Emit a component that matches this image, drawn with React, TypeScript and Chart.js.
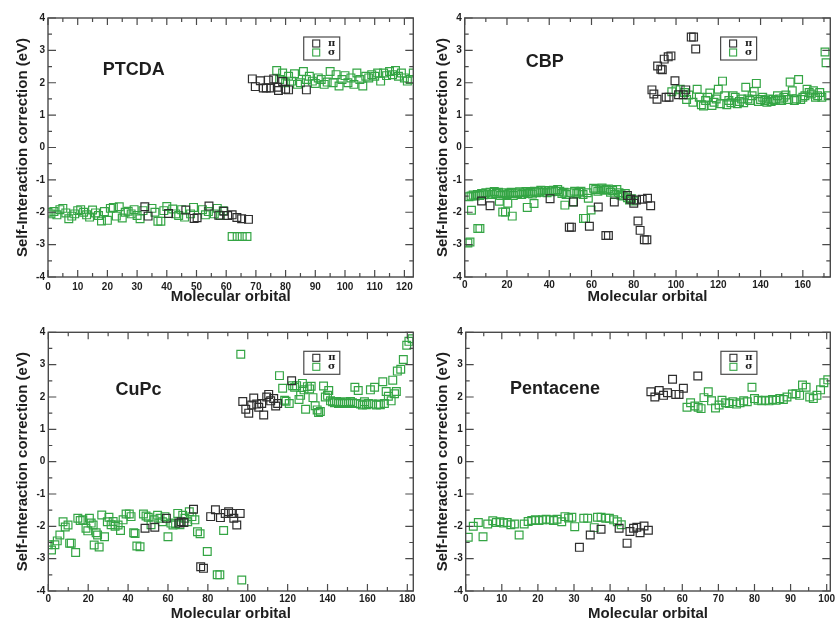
import React, { useEffect, useRef } from 'react';
import { Chart, registerables } from 'chart.js';

Chart.register(...registerables);

type Pt = [number, number];

// ---------- DATA ----------
const ptcdaPi: Pt[] = [
  [32.6, -1.83], [33.7, -2.12], [40.6, -2.04], [46.4, -1.93], [49.2, -2.19], [50.2, -2.17], [54.2, -1.81],
  [57.5, -2.09], [59.2, -1.97], [60.5, -2.1], [62, -2.08], [63.6, -2.16], [65.2, -2.2], [67.5, -2.22],
  [68.8, 2.12], [69.8, 1.88], [71.5, 2.06], [72.5, 1.84], [73.5, 1.84], [74.2, 2.08], [75, 1.84], [76, 2.12],
  [77.2, 1.86], [77.6, 1.76], [79, 2.04], [80, 1.8], [81, 1.78], [87, 1.78],
];
const ptcdaSigma: Pt[] = [
  [0, -2.0], [1, -2.05], [2, -1.98], [3, -2.08], [4, -1.92], [5, -1.88], [6, -2.02], [7, -2.2], [8, -2.12], [9, -2.05],
  [10, -1.95], [11, -1.92], [12, -2.0], [13, -2.08], [14, -2.15], [15, -1.93], [16, -2.02], [17, -2.1], [18, -2.27],
  [19, -1.98], [20, -2.25], [21, -1.88], [22, -1.85], [23, -2.12], [24, -1.83], [25, -2.18], [26, -2.0], [27, -1.97],
  [28, -2.05], [29, -1.92], [30, -2.1], [31, -2.2], [32, -1.95], [35, -1.88], [36, -2.0], [37, -2.28], [38, -2.28],
  [39, -1.95], [40, -1.82], [42, -1.9], [43, -2.05], [44, -2.1], [45, -1.92], [46, -2.15], [48, -2.05], [49, -1.85],
  [52, -1.92], [53, -2.08], [54, -1.98], [56, -2.05], [57, -1.88], [58, -2.1], [59, -1.95],
  [62, -2.75], [63.7, -2.75], [65.4, -2.75], [67, -2.75],
  [77, 2.38], [78, 2.1], [79, 2.3], [80, 2.0], [81, 2.2], [82, 2.05], [83, 2.28], [84, 1.95], [85, 2.0], [86, 2.35],
  [87, 2.1], [88, 2.2], [89, 2.05], [90, 1.98], [91, 2.15], [92, 2.1], [93, 1.95], [94, 2.02], [95, 2.35], [96, 2.0],
  [97, 2.25], [98, 1.9], [99, 2.1], [100, 2.22], [101, 2.0], [102, 2.15], [103, 1.95], [104, 2.3], [105, 2.1],
  [106, 1.9], [107, 2.2], [108, 2.15], [109, 2.25], [110, 2.2], [111, 2.3], [112, 2.05], [113, 2.3], [114, 2.22],
  [115, 2.35], [116, 2.25], [117, 2.38], [118, 2.2], [119, 2.3], [120, 2.15], [121, 2.05], [122, 2.1], [123, 2.3],
];

const cbpPi: Pt[] = [
  [8, -1.65], [12, -1.8], [40.4, -1.58], [49.5, -2.46], [50.5, -2.46], [51.5, -1.68], [59, -2.43], [63.2, -1.84],
  [66.8, -2.72], [68, -2.72], [70.8, -1.68], [77, -1.48], [78.5, -1.6], [80, -1.72], [81.3, -1.62], [82, -2.27],
  [83, -2.56], [84, -1.6], [85, -2.85], [86.2, -2.85], [86.5, -1.57], [88, -1.8],
  [88.6, 1.78], [89.5, 1.65], [91, 1.49], [91.3, 2.52], [92.8, 2.42], [93.5, 2.4], [94.4, 2.73], [96.3, 2.8],
  [97.6, 2.83], [95.3, 1.55], [96.7, 1.55], [99.5, 2.06], [101.2, 1.63], [103.4, 1.63], [104.6, 1.78],
  [107.2, 3.41], [108.3, 3.41], [109.3, 3.04],
];
const cbpSigma: Pt[] = [
  [1.5, -2.95], [2.5, -2.92], [3.2, -1.94], [6.2, -2.5], [7.2, -2.5], [16.4, -1.66], [18, -1.99], [19.3, -1.99],
  [20.4, -1.72], [22.5, -2.12], [29.6, -1.85], [32.8, -1.73], [47.4, -1.78], [51.3, -1.68], [56.2, -2.19],
  [57.2, -2.19], [59.8, -1.93], [58.5, -1.57], [73.9, -1.47],
  [2, -1.52], [3, -1.5], [4, -1.47], [5, -1.5], [6, -1.45], [7, -1.48], [8, -1.42], [9, -1.46], [10, -1.4],
  [11, -1.44], [12, -1.38], [13, -1.45], [14, -1.36], [15, -1.42], [16, -1.38], [17, -1.48], [18, -1.44], [19, -1.4],
  [20, -1.46], [21, -1.42], [22, -1.38], [23, -1.48], [24, -1.4], [25, -1.43], [26, -1.37], [27, -1.45], [28, -1.4],
  [29, -1.36], [30, -1.42], [31, -1.38], [32, -1.44], [33, -1.35], [34, -1.4], [35, -1.37], [36, -1.32], [37, -1.38],
  [38, -1.34], [39, -1.4], [40, -1.33], [41, -1.37], [42, -1.32], [43, -1.36], [44, -1.3], [45, -1.35], [46, -1.42],
  [47, -1.38], [48, -1.45], [50, -1.4], [52, -1.35], [53, -1.42], [54, -1.38], [55, -1.35], [56, -1.45], [58, -1.4],
  [61, -1.26], [62, -1.3], [63, -1.35], [64, -1.28], [65, -1.25], [66, -1.32], [67, -1.3], [68, -1.28], [69, -1.38],
  [70, -1.33], [71, -1.45], [72, -1.3], [73, -1.4], [74, -1.47], [75, -1.5], [76, -1.42], [77, -1.55], [78, -1.62],
  [79, -1.58], [80, -1.65],
  [98, 1.72], [100, 1.78], [102, 1.8], [104, 1.7], [105, 1.48], [106, 1.62], [108, 1.4], [110, 1.8], [111, 1.55],
  [112, 1.32], [113, 1.28], [114, 1.45], [115, 1.55], [116, 1.68], [117, 1.3], [118, 1.4], [119, 1.5], [120, 1.8],
  [121, 1.35], [122, 2.05], [123, 1.6], [124, 1.32], [125, 1.45], [126, 1.38], [127, 1.6], [128, 1.55], [129, 1.35],
  [130, 1.42], [131, 1.5], [132, 1.38], [133, 1.86], [134, 1.5], [135, 1.45], [136, 1.6], [137, 1.73], [138, 1.98],
  [139, 1.42], [140, 1.48], [141, 1.55], [142, 1.45], [143, 1.4], [144, 1.5], [145, 1.42], [146, 1.48], [147, 1.45],
  [148, 1.6], [149, 1.5], [150, 1.45], [151, 1.55], [152, 1.62], [153, 1.48], [154, 2.02], [155, 1.75], [156, 1.45],
  [157, 1.5], [158, 2.1], [159, 1.48], [160, 1.55], [161, 1.6], [162, 1.8], [163, 1.7], [164, 1.65], [165, 1.75],
  [166, 1.55], [167, 1.6], [168, 1.7], [169, 1.55], [170.5, 2.95], [171, 2.62], [172, 1.6],
];

const cupcPi: Pt[] = [
  [48.5, -2.06], [53.4, -2.03], [59.2, -1.75], [65.5, -1.9], [66.6, -1.86], [68, -1.88], [72.8, -1.47],
  [76.4, -3.25], [77.8, -3.3], [81.4, -1.7], [83.8, -1.49], [86.3, -1.73], [88.7, -1.6], [90.4, -1.55],
  [91.8, -1.6], [93, -1.75], [94.5, -1.96], [96.2, -1.6],
  [97.5, 1.86], [99, 1.62], [100.5, 1.5], [102, 1.75], [103, 1.97], [104.5, 1.78], [105.5, 1.68], [107, 1.8],
  [108, 1.44], [109.5, 2.0], [110.5, 2.08], [111.5, 1.88], [113, 1.95], [114, 1.72], [115, 1.8], [122, 2.5],
];
const cupcSigma: Pt[] = [
  [0, -2.57], [1.6, -2.73], [3.3, -2.57], [4.5, -2.45], [5.8, -2.27], [7.4, -1.86], [8.5, -2.02], [9.9, -1.96],
  [10.7, -2.52], [11.5, -2.52], [13.7, -2.81], [14.8, -1.75], [16, -1.82], [17.3, -1.8], [18.9, -2.06], [19.8, -2.14],
  [20.6, -1.75], [21.5, -1.9], [22.5, -1.96], [23, -2.58], [24, -2.2], [24.7, -2.27], [25.5, -2.64], [26.8, -1.65],
  [28.2, -2.32], [29.6, -1.86], [30.4, -1.72], [31.5, -1.95], [32.5, -1.85], [33.5, -2.0], [35, -1.96], [36.2, -2.13],
  [37.5, -1.8], [39, -1.62], [40.6, -1.62], [41.5, -1.7], [42.8, -2.2], [43.5, -2.22], [44.4, -2.61], [46, -2.63],
  [47.7, -1.62], [49, -1.68], [50.1, -1.72], [51.5, -1.95], [53, -1.8], [54.8, -1.66], [56, -1.75], [57.2, -1.86],
  [58.5, -1.7], [60, -2.32], [61.5, -1.9], [62.5, -1.96], [63.8, -1.92], [64.9, -1.6], [66, -1.95], [67.4, -1.66],
  [68.5, -1.75], [69.9, -1.86], [70.7, -1.55], [72, -1.7], [73.5, -1.8], [74.8, -2.17], [76.1, -2.23], [79.7, -2.78],
  [84.7, -3.5], [86, -3.5], [87.9, -2.13], [97, -3.66],
  [96.5, 3.32], [115.9, 2.66], [117.5, 2.27], [118.5, 1.9], [119.2, 1.87], [120.8, 1.8], [122.5, 2.35], [123.5, 2.3],
  [124.5, 2.35], [125.7, 1.92], [126.5, 2.05], [127.4, 2.42], [128.2, 2.22], [129, 1.62], [129.9, 2.32], [131, 2.25],
  [131.8, 2.33], [132.7, 1.98], [133.8, 1.73], [134.8, 1.6], [135.5, 1.52], [136.4, 1.55], [138, 2.34], [138.9, 2.0],
  [140, 2.05], [140.6, 2.2], [141.5, 1.88], [142.5, 1.85], [143.5, 1.82], [144.5, 1.86], [145.5, 1.8], [146.5, 1.83],
  [147.5, 1.8], [148.5, 1.85], [149.5, 1.82], [150.5, 1.8], [151.5, 1.86], [152.5, 1.82], [153.7, 2.3], [154.5, 1.8],
  [155.4, 2.2], [156.5, 1.78], [157.5, 1.75], [158.5, 1.85], [159.5, 1.76], [160.5, 1.8], [161.5, 2.22], [162.5, 1.78],
  [163.6, 2.3], [164.5, 1.75], [165.5, 1.78], [166.5, 1.76], [167.7, 2.47], [168.5, 1.8], [169.4, 2.17], [170.5, 2.02],
  [171.9, 1.88], [172.7, 2.52], [173.6, 2.1], [174.5, 2.17], [175, 2.8], [176.7, 2.86], [178, 3.16], [179.7, 3.6],
  [180.8, 3.72], [182.4, 3.8],
];

const pentacenePi: Pt[] = [
  [31.5, -2.65], [34.5, -2.27], [37.5, -2.09], [42.5, -2.06], [44.7, -2.52], [45.5, -2.16], [46.5, -2.06],
  [47.4, -2.03], [48.3, -2.2], [49.4, -1.99], [50.6, -2.12],
  [51.3, 2.16], [52.4, 2.0], [53.6, 2.2], [54.8, 2.05], [55.9, 2.13], [57.3, 2.55], [58.2, 2.08], [59.1, 2.08],
  [60.3, 2.27], [64.3, 2.65],
];
const pentaceneSigma: Pt[] = [
  [0.7, -2.34], [2.1, -2.0], [3.5, -1.88], [4.8, -2.32], [6.1, -1.93], [7.5, -1.83], [8.5, -1.88], [9.5, -1.86],
  [10.5, -1.9], [11.5, -1.88], [12.5, -1.95], [13.5, -1.93], [14.8, -2.27], [16.2, -1.93], [17.3, -1.85], [18.3, -1.82],
  [19.3, -1.8], [20.3, -1.82], [21.3, -1.8], [22.3, -1.78], [23.3, -1.8], [24.3, -1.82], [25.3, -1.78], [26.6, -1.86],
  [27.5, -1.7], [28.5, -1.74], [29.4, -1.72], [30.2, -2.01], [32.7, -1.75], [33.8, -1.75], [35.6, -2.04], [36.5, -1.72],
  [37.5, -1.72], [38.8, -1.75], [39.8, -1.75], [41, -1.8], [42, -1.86], [43.1, -1.95],
  [61.3, 1.68], [62.3, 1.82], [63.5, 1.72], [64.4, 1.68], [65.2, 1.64], [66, 1.98], [67.2, 2.16], [68.1, 1.88],
  [69.2, 1.66], [70.2, 1.75], [71, 1.9], [72, 1.82], [73, 1.8], [74, 1.85], [75, 1.78], [76, 1.82], [77, 1.88],
  [78, 1.85], [79.3, 2.3], [80, 1.95], [81, 1.9], [82, 1.88], [83, 1.9], [84, 1.88], [85, 1.92], [86, 1.9], [87, 1.95],
  [88, 1.92], [89, 2.0], [90.5, 2.09], [91.5, 2.1], [92.5, 2.05], [93.3, 2.37], [94.3, 2.3], [95.3, 2.0], [96.3, 1.95],
  [97.3, 2.05], [98.3, 2.22], [99.2, 2.44], [100.3, 2.53],
];

const yTicks = [-4, -3, -2, -1, 0, 1, 2, 3, 4];
const ptcdaXTicks = [0, 10, 20, 30, 40, 50, 60, 70, 80, 90, 100, 110, 120];
const cbpXTicks = [0, 20, 40, 60, 80, 100, 120, 140, 160];
const cupcXTicks = [0, 20, 40, 60, 80, 100, 120, 140, 160, 180];
const pentaceneXTicks = [0, 10, 20, 30, 40, 50, 60, 70, 80, 90, 100];

const xTitle = 'Molecular orbital';
const yTitle = 'Self-Interaction correction (eV)';
const piLabel = 'π';
const sigmaLabel = 'σ';

// ---------- STYLE ----------
const PI_COLOR = '#2e2e2e';
const SIGMA_COLOR = 'rgb(52,165,68)';
const TEXT = '#1e1e1e';
const FRAME = '#4a4a4a';
const SANS = '"Liberation Sans", Arial, sans-serif';
const SERIF = '"DejaVu Serif", "Liberation Serif", serif';

interface PanelCfg {
  name: string;
  pi: Pt[];
  sigma: Pt[];
  xMax: number;
  xTicks: number[];
  xMinor: number;
  left: number; top: number; w: number; h: number;
  area: { left: number; top: number; right: number; bottom: number };
  xLabelPad: number; xTitlePad: number; yTitlePad: number;
  namePos: [number, number];
}

const panels: PanelCfg[] = [
  {
    name: 'PTCDA', pi: ptcdaPi, sigma: ptcdaSigma, xMax: 123, xTicks: ptcdaXTicks, xMinor: 5,
    left: 0, top: 0, w: 420, h: 308, area: { left: 48, top: 18, right: 418, bottom: 277 },
    xLabelPad: 4, xTitlePad: 2, yTitlePad: 13.5, namePos: [0.235, 0.2],
  },
  {
    name: 'CBP', pi: cbpPi, sigma: cbpSigma, xMax: 173, xTicks: cbpXTicks, xMinor: 10,
    left: 418, top: 0, w: 419, h: 308, area: { left: 46.7, top: 18, right: 418.3, bottom: 277 },
    xLabelPad: 2.5, xTitlePad: 2, yTitlePad: 16, namePos: [0.219, 0.17],
  },
  {
    name: 'CuPc', pi: cupcPi, sigma: cupcSigma, xMax: 183, xTicks: cupcXTicks, xMinor: 10,
    left: 0, top: 310, w: 420, h: 313, area: { left: 48.3, top: 22.3, right: 419.3, bottom: 281 },
    xLabelPad: 2, xTitlePad: 0, yTitlePad: 14, namePos: [0.247, 0.223],
  },
  {
    name: 'Pentacene', pi: pentacenePi, sigma: pentaceneSigma, xMax: 101, xTicks: pentaceneXTicks, xMinor: 5,
    left: 418, top: 310, w: 419, h: 313, area: { left: 47.7, top: 22.3, right: 418.6, bottom: 281 },
    xLabelPad: 2, xTitlePad: 0, yTitlePad: 16, namePos: [0.245, 0.219],
  },
];

function makeFramePlugin(c: PanelCfg) {
  return {
    id: 'frameTicks',
    afterDatasetsDraw(chart: any) {
      const { ctx, chartArea: a, scales } = chart;
      const xs = scales.x, ys = scales.y;
      ctx.save();
      ctx.strokeStyle = FRAME;
      ctx.lineWidth = 1.4;
      ctx.strokeRect(a.left, a.top, a.right - a.left, a.bottom - a.top);
      ctx.lineWidth = 1.2;
      ctx.beginPath();
      const majorX = c.xTicks[1] - c.xTicks[0];
      for (let v = 0; v <= c.xMax + 1e-9; v += c.xMinor) {
        const major = Math.abs(v / majorX - Math.round(v / majorX)) < 1e-6;
        const len = major ? 7 : 4;
        const px = xs.getPixelForValue(v);
        ctx.moveTo(px, a.bottom); ctx.lineTo(px, a.bottom - len);
        ctx.moveTo(px, a.top); ctx.lineTo(px, a.top + len);
      }
      for (let v = -4; v <= 4 + 1e-9; v += 0.5) {
        const major = Math.abs(v - Math.round(v)) < 1e-6;
        const len = major ? 8 : 4;
        const py = ys.getPixelForValue(v);
        ctx.moveTo(a.left, py); ctx.lineTo(a.left + len, py);
        ctx.moveTo(a.right, py); ctx.lineTo(a.right - len, py);
      }
      ctx.stroke();
      ctx.restore();
    },
  };
}

function makeDecoPlugin(c: PanelCfg) {
  return {
    id: 'deco',
    afterDraw(chart: any) {
      const { ctx, chartArea: a } = chart;
      const W = a.right - a.left, H = a.bottom - a.top;
      ctx.save();
      // panel name
      ctx.fillStyle = TEXT;
      ctx.font = `bold 18px ${SANS}`;
      ctx.textAlign = 'center';
      ctx.textBaseline = 'middle';
      ctx.fillText(c.name, a.left + c.namePos[0] * W, a.top + c.namePos[1] * H);
      // legend
      const bx = a.left + 0.7 * W, by = a.top + 19, bw = 36, bh = 23;
      ctx.strokeStyle = FRAME;
      ctx.lineWidth = 1.2;
      ctx.strokeRect(bx, by, bw, bh);
      const rows: [string, string][] = [[piLabel, PI_COLOR], [sigmaLabel, SIGMA_COLOR]];
      rows.forEach(([lab, col], i) => {
        const cy = by + 6.5 + i * 9;
        ctx.strokeStyle = col;
        ctx.lineWidth = 1.1;
        ctx.strokeRect(bx + 9, cy - 3.5, 7, 7);
        ctx.fillStyle = TEXT;
        ctx.font = `bold 10px ${SERIF}`;
        ctx.fillText(lab, bx + 28, cy);
      });
      ctx.restore();
    },
  };
}

function Panel({ c }: { c: PanelCfg }) {
  const ref = useRef<HTMLCanvasElement>(null);
  useEffect(() => {
    const tickFont = { family: SANS, size: 10, weight: 'bold' as const };
    const titleFont = { family: SANS, size: 15, weight: 'bold' as const };
    const chart = new Chart(ref.current as HTMLCanvasElement, {
      type: 'scatter',
      data: {
        datasets: [
          {
            label: piLabel,
            data: c.pi.map(([x, y]) => ({ x, y })),
            pointStyle: 'rect', pointRadius: 5.5, borderWidth: 1.2,
            borderColor: PI_COLOR, backgroundColor: 'rgba(0,0,0,0)',
          },
          {
            label: sigmaLabel,
            data: c.sigma.map(([x, y]) => ({ x, y })),
            pointStyle: 'rect', pointRadius: 5.5, borderWidth: 1.2,
            borderColor: SIGMA_COLOR, backgroundColor: 'rgba(0,0,0,0)',
          },
        ],
      },
      options: {
        responsive: false,
        animation: false,
        events: [],
        layout: { padding: { left: 0, top: c.area.top, right: c.w - c.area.right, bottom: 0 } },
        plugins: { legend: { display: false }, tooltip: { enabled: false } },
        scales: {
          x: {
            type: 'linear', min: 0, max: c.xMax,
            grid: { display: false, drawTicks: false },
            border: { display: false },
            afterBuildTicks: (s: any) => { s.ticks = c.xTicks.map((v) => ({ value: v })); },
            afterFit: (s: any) => { s.height = c.h - c.area.bottom; s.paddingLeft = 0; s.paddingRight = 0; },
            ticks: {
              padding: c.xLabelPad, font: tickFont, color: TEXT, maxRotation: 0, autoSkip: false,
              callback: (v: any) => String(v),
            },
            title: { display: true, text: xTitle, font: titleFont, color: TEXT, padding: { top: 0, bottom: c.xTitlePad } },
          },
          y: {
            type: 'linear', min: -4, max: 4,
            grid: { display: false, drawTicks: false },
            border: { display: false },
            afterBuildTicks: (s: any) => { s.ticks = yTicks.map((v) => ({ value: v })); },
            afterFit: (s: any) => { s.width = c.area.left; s.paddingTop = 0; s.paddingBottom = 0; },
            ticks: { padding: 3, font: tickFont, color: TEXT, autoSkip: false, callback: (v: any) => String(v) },
            title: { display: true, text: yTitle, font: titleFont, color: TEXT, padding: { top: c.yTitlePad, bottom: 0 } },
          },
        },
      } as any,
      plugins: [makeFramePlugin(c), makeDecoPlugin(c)],
    });
    return () => chart.destroy();
  }, [c]);
  return (
    <canvas
      ref={ref}
      width={c.w}
      height={c.h}
      style={{ position: 'absolute', left: c.left, top: c.top, width: c.w, height: c.h }}
    />
  );
}

export default function App() {
  return (
    <div style={{ position: 'absolute', left: 0, top: 0, width: 837, height: 623, background: '#fff', overflow: 'hidden' }}>
      {panels.map((p) => (
        <Panel key={p.name} c={p} />
      ))}
    </div>
  );
}
